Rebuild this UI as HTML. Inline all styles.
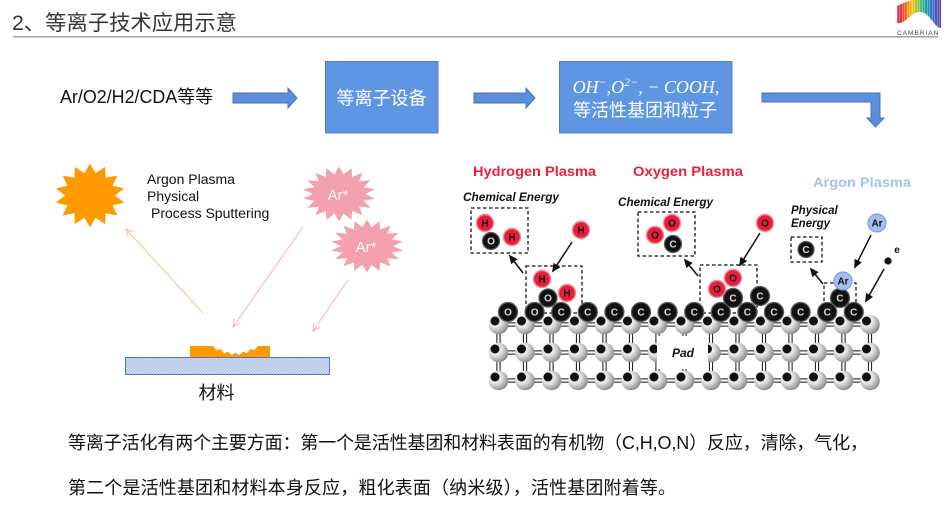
<!DOCTYPE html>
<html><head><meta charset="utf-8">
<style>
html,body{margin:0;padding:0;background:#fff;width:950px;height:516px;overflow:hidden}
svg{display:block}
.sans{font-family:"Liberation Sans","Noto Sans CJK SC",sans-serif}
.k{fill:#111;stroke:#5c5c5c;stroke-width:1.3}
.r{fill:#e61e3c;stroke:#f58a98;stroke-width:1.4}
.lb{font-family:"Liberation Sans",sans-serif;font-weight:bold;font-size:10px;text-anchor:middle}
.lw{fill:#d8d8d8}
.lk{fill:#111}
.dash{fill:none;stroke:#111;stroke-width:1.3;stroke-dasharray:3.5 2.5}
.ar{stroke:#111;stroke-width:1.5;marker-end:url(#ka)}
</style></head>
<body>
<svg width="950" height="516" viewBox="0 0 950 516" xmlns="http://www.w3.org/2000/svg">
<defs>
  <linearGradient id="rb" x1="0" x2="1" y1="0" y2="0">
    <stop offset="0" stop-color="#d9185f"/><stop offset=".18" stop-color="#f05a22"/>
    <stop offset=".33" stop-color="#f9c80e"/><stop offset=".48" stop-color="#8dc63f"/>
    <stop offset=".63" stop-color="#16a99e"/><stop offset=".8" stop-color="#2f6fd0"/>
    <stop offset="1" stop-color="#6a3aa0"/>
  </linearGradient>
  <pattern id="stp" width="2.5" height="30" patternUnits="userSpaceOnUse"><rect x="2" width="0.5" height="30" fill="#fff" opacity=".6"/></pattern>
  <pattern id="hp" width="3" height="3" patternUnits="userSpaceOnUse">
    <rect width="3" height="3" fill="#d6e1f3"/><rect width="1.5" height="1.5" fill="#a9bfe4"/><rect x="1.5" y="1.5" width="1.5" height="1.5" fill="#a9bfe4"/>
  </pattern>
  <radialGradient id="sg" cx="35%" cy="35%" r="70%">
    <stop offset="0" stop-color="#ffffff"/><stop offset=".45" stop-color="#e2e2e2"/>
    <stop offset=".8" stop-color="#a9a9a9"/><stop offset="1" stop-color="#858585"/>
  </radialGradient>
  <marker id="oa" viewBox="0 0 10 10" refX="9" refY="5" markerWidth="9" markerHeight="9" markerUnits="userSpaceOnUse" orient="auto"><path d="M1,1 L9,5 L1,9" fill="none" stroke="#f9c38c" stroke-width="1.2"/></marker>
  <marker id="pa" viewBox="0 0 10 10" refX="9" refY="5" markerWidth="9" markerHeight="9" markerUnits="userSpaceOnUse" orient="auto"><path d="M1,1 L9,5 L1,9" fill="none" stroke="#f5b4b8" stroke-width="1.2"/></marker>
  <marker id="ka" viewBox="0 0 10 10" refX="8" refY="5" markerWidth="9" markerHeight="9" markerUnits="userSpaceOnUse" orient="auto"><path d="M0,0.5 L10,5 L0,9.5 Z" fill="#111"/></marker>
  <polygon id="pstar" points="0,-10 1.25,-7.09 3.42,-9.40 3.6,-6.24 6.43,-7.66 5.52,-4.63 8.66,-5 6.77,-2.46 9.85,-1.74 7.2,0 9.85,1.74 6.77,2.46 8.66,5 5.52,4.63 6.43,7.66 3.6,6.24 3.42,9.40 1.25,7.09 0,10 -1.25,7.09 -3.42,9.40 -3.6,6.24 -6.43,7.66 -5.52,4.63 -8.66,5 -6.77,2.46 -9.85,1.74 -7.2,0 -9.85,-1.74 -6.77,-2.46 -8.66,-5 -5.52,-4.63 -6.43,-7.66 -3.6,-6.24 -3.42,-9.40 -1.25,-7.09"/>
  <g id="at"><circle cx="3.5" cy="3.5" r="9.8" fill="url(#sg)"/><circle cx="0" cy="0" r="4.5" fill="#111"/></g>
</defs>

<!-- Title -->
<text class="sans" x="12" y="30" font-size="21" fill="#363636" textLength="225" lengthAdjust="spacingAndGlyphs">2、等离子技术应用示意</text>
<rect x="13" y="36" width="925" height="1.6" fill="#a8a8a8"/>

<!-- Logo -->
<path d="M897,6 C905,2 910,0 916,0 L941,0 L941,28 C934,28 930,12 920,12 C910,12 906,25 897,23 Z" fill="url(#rb)"/>
<path d="M897,6 C905,2 910,0 916,0 L941,0 L941,28 C934,28 930,12 920,12 C910,12 906,25 897,23 Z" fill="url(#stp)"/>
<text x="897" y="35" font-family="Liberation Sans,sans-serif" font-size="6.5" fill="#444" letter-spacing="1">CAMBRIAN</text>

<!-- Flow row -->
<text class="sans" x="60" y="103" font-size="18" fill="#111" textLength="153" lengthAdjust="spacingAndGlyphs">Ar/O2/H2/CDA等等</text>
<polygon points="233,93 288,93 288,88 297,98 288,108 288,103 233,103" fill="#5b8fdb" stroke="#4472c4" stroke-width="1"/>
<rect x="325.5" y="61.5" width="112.5" height="71.5" fill="#5f96e4" stroke="#4f7fc8" stroke-width="1"/>
<text class="sans" x="381.5" y="104.5" font-size="18" fill="#fff" text-anchor="middle">等离子设备</text>
<polygon points="474,93 526,93 526,88 535,98 526,108 526,103 474,103" fill="#5b8fdb" stroke="#4472c4" stroke-width="1"/>
<rect x="559.5" y="61.5" width="172.5" height="71.5" fill="#5f96e4" stroke="#4f7fc8" stroke-width="1"/>
<text x="646" y="93" font-family="Liberation Serif,DejaVu Serif,serif" font-style="italic" font-size="18" fill="#fff" text-anchor="middle">OH<tspan font-size="12" dy="-7">−</tspan><tspan dy="7">,O</tspan><tspan font-size="12" dy="-7">2−</tspan><tspan dy="7">, − COOH,</tspan></text>
<text class="sans" x="645" y="116.5" font-size="18" fill="#fff" text-anchor="middle">等活性基团和粒子</text>
<polygon points="762,93 880,93 880,118 884,118 875.5,127 867,118 871,118 871,102 762,102" fill="#5b8fdb" stroke="#4472c4" stroke-width="1"/>

<!-- Left diagram -->
<polygon transform="translate(90,195.5) scale(1,0.91)" fill="#ff9900" points="0,-35 5.6,-24.4 15.2,-31.5 15.6,-19.5 27.4,-21.8 22.5,-10.8 34.1,-7.8 25,0 34.1,7.8 22.5,10.8 27.4,21.8 15.6,19.5 15.2,31.5 5.6,24.4 0,35 -5.6,24.4 -15.2,31.5 -15.6,19.5 -27.4,21.8 -22.5,10.8 -34.1,7.8 -25,0 -34.1,-7.8 -22.5,-10.8 -27.4,-21.8 -15.6,-19.5 -15.2,-31.5 -5.6,-24.4"/>
<g font-family="Liberation Sans,sans-serif" font-size="14" fill="#111">
  <text x="147" y="184">Argon Plasma</text>
  <text x="147" y="201">Physical</text>
  <text x="151" y="218">Process Sputtering</text>
</g>
<use href="#pstar" transform="translate(339,194) scale(3.65,2.75)" fill="#f3a1ad"/>
<use href="#pstar" transform="translate(367,246) scale(3.65,2.65)" fill="#f3a1ad"/>
<text x="338" y="200" font-family="Liberation Sans,sans-serif" font-size="15" fill="#fff" text-anchor="middle">Ar*</text>
<text x="366" y="252" font-family="Liberation Sans,sans-serif" font-size="15" fill="#fff" text-anchor="middle">Ar*</text>
<line x1="203" y1="313" x2="126" y2="229" stroke="#f9c38c" stroke-width="1" marker-end="url(#oa)"/>
<line x1="303" y1="227" x2="233" y2="327" stroke="#f5b4b8" stroke-width="1" marker-end="url(#pa)"/>
<line x1="348" y1="280" x2="313" y2="331" stroke="#f5b4b8" stroke-width="1" marker-end="url(#pa)"/>
<path d="M190,346 L213,346 L216.75,350.3 L220.5,349 L224.25,353.4 L228,351.6 L231.75,355.2 L235.5,352.6 L239.25,355.2 L243,351.6 L246.75,353.4 L250.5,349 L254.25,350.3 L258,346 L270,346 L270,357 L190,357 Z" fill="#ff9900"/>
<rect x="125.5" y="357.5" width="204" height="17" fill="url(#hp)" stroke="#5577b8" stroke-width="1"/>
<text class="sans" x="216.5" y="399" font-size="18" fill="#111" text-anchor="middle">材料</text>

<!-- Right diagram: lattice bonds -->
<g stroke="#111" stroke-width="1" fill="none">
  <path d="M498,322.9 H872 M498,326.1 H872 M498,350.9 H872 M498,354.1 H872 M498,378.9 H872 M498,382.1 H872"/>
  <path d="M496.9,325 V381 M500.1,325 V381 M523.4,325 V381 M526.6,325 V381 M549.9,325 V381 M553.1,325 V381 M576.4,325 V381 M579.6,325 V381 M602.9,325 V381 M606.1,325 V381 M629.4,325 V381 M632.6,325 V381 M655.9,325 V381 M659.1,325 V381 M682.9,325 V381 M686.1,325 V381 M709.4,325 V381 M712.6,325 V381 M735.9,325 V381 M739.1,325 V381 M762.4,325 V381 M765.6,325 V381 M788.9,325 V381 M792.1,325 V381 M815.4,325 V381 M818.6,325 V381 M841.9,325 V381 M845.1,325 V381 M868.4,325 V381 M871.6,325 V381"/>
</g>
<!-- lattice atoms -->
<g>
<use href="#at" x="495" y="321"/><use href="#at" x="521.5" y="321"/><use href="#at" x="548" y="321"/><use href="#at" x="574.5" y="321"/><use href="#at" x="601" y="321"/><use href="#at" x="627.5" y="321"/><use href="#at" x="654" y="321"/><use href="#at" x="681" y="321"/><use href="#at" x="707.5" y="321"/><use href="#at" x="734" y="321"/><use href="#at" x="760.5" y="321"/><use href="#at" x="787" y="321"/><use href="#at" x="813.5" y="321"/><use href="#at" x="840" y="321"/><use href="#at" x="866.5" y="321"/>
<use href="#at" x="495" y="349"/><use href="#at" x="521.5" y="349"/><use href="#at" x="548" y="349"/><use href="#at" x="574.5" y="349"/><use href="#at" x="601" y="349"/><use href="#at" x="627.5" y="349"/><use href="#at" x="654" y="349"/><use href="#at" x="681" y="349"/><use href="#at" x="707.5" y="349"/><use href="#at" x="734" y="349"/><use href="#at" x="760.5" y="349"/><use href="#at" x="787" y="349"/><use href="#at" x="813.5" y="349"/><use href="#at" x="840" y="349"/><use href="#at" x="866.5" y="349"/>
<use href="#at" x="495" y="377"/><use href="#at" x="521.5" y="377"/><use href="#at" x="548" y="377"/><use href="#at" x="574.5" y="377"/><use href="#at" x="601" y="377"/><use href="#at" x="627.5" y="377"/><use href="#at" x="654" y="377"/><use href="#at" x="681" y="377"/><use href="#at" x="707.5" y="377"/><use href="#at" x="734" y="377"/><use href="#at" x="760.5" y="377"/><use href="#at" x="787" y="377"/><use href="#at" x="813.5" y="377"/><use href="#at" x="840" y="377"/><use href="#at" x="866.5" y="377"/>
</g>
<rect x="657" y="336" width="51" height="33" fill="#fff"/>
<text x="683" y="357" font-family="Liberation Sans,sans-serif" font-weight="bold" font-style="italic" font-size="12" fill="#111" text-anchor="middle">Pad</text>

<!-- lower dashed boxes -->
<rect class="dash" x="526" y="266" width="56" height="47"/>
<rect class="dash" x="700" y="265" width="57" height="48"/>
<rect class="dash" x="824" y="283" width="32" height="22"/>

<!-- surface atoms -->
<g>
<circle class="k" cx="508" cy="312" r="9.5"/><circle class="k" cx="534.6" cy="312" r="9.5"/><circle class="k" cx="561.2" cy="312" r="9.5"/><circle class="k" cx="587.8" cy="312" r="9.5"/><circle class="k" cx="614.4" cy="312" r="9.5"/><circle class="k" cx="641" cy="312" r="9.5"/><circle class="k" cx="667.6" cy="312" r="9.5"/><circle class="k" cx="694.2" cy="312" r="9.5"/><circle class="k" cx="720.8" cy="312" r="9.5"/><circle class="k" cx="747.4" cy="312" r="9.5"/><circle class="k" cx="774" cy="312" r="9.5"/><circle class="k" cx="800.6" cy="312" r="9.5"/><circle class="k" cx="827.2" cy="312" r="9.5"/><circle class="k" cx="853.8" cy="312" r="9.5"/>
</g>
<g class="lb lw">
<text x="508" y="315.6" class="lw">O</text><text x="534.6" y="315.6" class="lw">O</text><text x="561.2" y="315.6" class="lw">C</text><text x="587.8" y="315.6" class="lw">C</text><text x="614.4" y="315.6" class="lw">C</text><text x="641" y="315.6" class="lw">C</text><text x="667.6" y="315.6" class="lw">C</text><text x="694.2" y="315.6" class="lw">C</text><text x="720.8" y="315.6" class="lw">C</text><text x="747.4" y="315.6" class="lw">C</text><text x="774" y="315.6" class="lw">C</text><text x="800.6" y="315.6" class="lw">C</text><text x="827.2" y="315.6" class="lw">C</text><text x="853.8" y="315.6" class="lw">C</text>
</g>

<!-- Hydrogen raised -->
<circle class="r" cx="542" cy="279" r="8.5"/><text class="lb lk" x="542" y="282.6">H</text>
<circle class="k" cx="548" cy="298" r="9"/><text class="lb lw" x="548" y="301.6">O</text>
<circle class="r" cx="567" cy="293" r="8.5"/><text class="lb lk" x="567" y="296.6">H</text>
<!-- Oxygen raised -->
<circle class="k" cx="733" cy="298" r="9.5"/><text class="lb lw" x="733" y="301.6">C</text>
<circle class="k" cx="760" cy="296" r="9.5"/><text class="lb lw" x="760" y="299.6">C</text>
<circle class="r" cx="733" cy="278" r="8.5"/><text class="lb lk" x="733" y="281.6">O</text>
<circle class="r" cx="717" cy="289" r="8.5"/><text class="lb lk" x="717" y="292.6">O</text>
<!-- Argon raised -->
<circle class="k" cx="840" cy="298" r="9.5"/><text class="lb lw" x="840" y="301.6">C</text>
<circle cx="843" cy="281" r="9" fill="#a3bdee" stroke="#7f9fd8" stroke-width="1.2"/><text class="lb lk" x="843" y="284.6">Ar</text>

<!-- upper boxes & molecules -->
<rect class="dash" x="471" y="208" width="57" height="45"/>
<circle class="r" cx="485" cy="223" r="8.5"/><text class="lb lk" x="485" y="226.6">H</text>
<circle class="k" cx="491" cy="241" r="8.5"/><text class="lb lw" x="491" y="244.6">O</text>
<circle class="r" cx="512" cy="237" r="8.5"/><text class="lb lk" x="512" y="240.6">H</text>
<circle class="r" cx="581" cy="230" r="8.5"/><text class="lb lk" x="581" y="233.6">H</text>
<line class="ar" x1="572" y1="242" x2="553" y2="271"/>
<line class="ar" x1="523" y1="273" x2="510" y2="256"/>

<rect class="dash" x="638" y="212" width="57" height="44"/>
<circle class="r" cx="672" cy="223" r="8.5"/><text class="lb lk" x="672" y="226.6">O</text>
<circle class="k" cx="673" cy="244" r="8.5"/><text class="lb lw" x="673" y="247.6">C</text>
<circle class="r" cx="655" cy="235" r="8.5"/><text class="lb lk" x="655" y="238.6">O</text>
<circle class="r" cx="765" cy="223" r="8.5"/><text class="lb lk" x="765" y="226.6">O</text>
<line class="ar" x1="760" y1="233" x2="740" y2="265"/>
<line class="ar" x1="698" y1="276" x2="685" y2="260"/>

<rect class="dash" x="791" y="237" width="31" height="25"/>
<circle class="k" cx="806" cy="249.5" r="8"/><text class="lb lw" x="806" y="253">C</text>
<circle cx="877" cy="223" r="9" fill="#a3bdee" stroke="#7f9fd8" stroke-width="1.2"/><text class="lb lk" x="877" y="226.6">Ar</text>
<line class="ar" x1="871" y1="235" x2="855" y2="267"/>
<circle cx="888" cy="261" r="3.6" fill="#111"/>
<text x="897" y="253" font-family="Liberation Sans,sans-serif" font-weight="bold" font-size="10" fill="#111" text-anchor="middle">e</text>
<line class="ar" x1="884" y1="269" x2="866" y2="301"/>
<line class="ar" x1="823" y1="284" x2="811" y2="269"/>

<!-- right labels -->
<g font-family="Liberation Sans,sans-serif" font-weight="bold">
  <text x="473" y="176" font-size="14" fill="#e8213a" textLength="123" lengthAdjust="spacingAndGlyphs">Hydrogen Plasma</text>
  <text x="633" y="176" font-size="14" fill="#e8213a" textLength="110" lengthAdjust="spacingAndGlyphs">Oxygen Plasma</text>
  <text x="813" y="187" font-size="14" fill="#a8c2ee" textLength="98" lengthAdjust="spacingAndGlyphs">Argon Plasma</text>
  <text x="463" y="201" font-size="12" font-style="italic" fill="#111" textLength="96" lengthAdjust="spacingAndGlyphs">Chemical Energy</text>
  <text x="618" y="206" font-size="12" font-style="italic" fill="#111" textLength="95" lengthAdjust="spacingAndGlyphs">Chemical Energy</text>
  <text x="791" y="214" font-size="11.5" font-style="italic" fill="#111">Physical</text>
  <text x="791" y="227" font-size="11.5" font-style="italic" fill="#111">Energy</text>
</g>

<!-- bottom text -->
<text class="sans" x="68" y="449" font-size="18" fill="#111" textLength="800" lengthAdjust="spacing">等离子活化有两个主要方面：第一个是活性基团和材料表面的有机物（C,H,O,N）反应，清除，气化，</text>
<text class="sans" x="68" y="494" font-size="18" fill="#111" textLength="608" lengthAdjust="spacing">第二个是活性基团和材料本身反应，粗化表面（纳米级），活性基团附着等。</text>
</svg>
</body></html>
